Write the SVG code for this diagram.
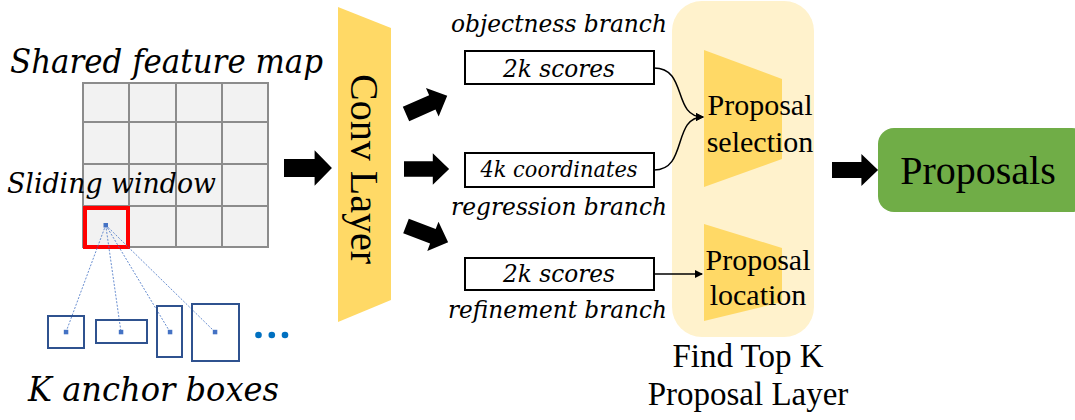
<svg xmlns="http://www.w3.org/2000/svg" width="1075" height="420" viewBox="0 0 1075 420">
<defs>
<style>
.serif{font-family:"Liberation Serif","Times New Roman",serif;fill:#000}
.ital{font-family:"DejaVu Serif",serif;font-style:italic;fill:#000}
.cell{fill:#f2f2f2;stroke:#8c8c8c;stroke-width:2}
.anchor{fill:none;stroke:#2f528f;stroke-width:2}
.adot{fill:#4472c4}
.dash{stroke:#4472c4;stroke-width:1;stroke-dasharray:2 1.5;fill:none;opacity:0.8}
.box{fill:#fff;stroke:#000;stroke-width:2}
.conn{fill:none;stroke:#000;stroke-width:1.5}
</style>
<path id="bigArrow" d="M0,-8.5 H30 V-17 L47,0 L30,17 V8.5 H0 Z" fill="#000"/>
<marker id="tri" markerWidth="8" markerHeight="8" refX="7" refY="4" orient="auto" markerUnits="userSpaceOnUse">
<path d="M0,0 L8,4 L0,8 Z" fill="#000"/>
</marker>
</defs>
<rect width="1075" height="420" fill="#fff"/>

<g id="feature-map">
<text class="ital" x="10" y="73" font-size="33" textLength="313" lengthAdjust="spacingAndGlyphs">Shared feature map</text>
<rect class="cell" x="83" y="83" width="46" height="39"/>
<rect class="cell" x="129" y="83" width="47" height="39"/>
<rect class="cell" x="176" y="83" width="46" height="39"/>
<rect class="cell" x="222" y="83" width="46" height="39"/>
<rect class="cell" x="83" y="122" width="46" height="42"/>
<rect class="cell" x="129" y="122" width="47" height="42"/>
<rect class="cell" x="176" y="122" width="46" height="42"/>
<rect class="cell" x="222" y="122" width="46" height="42"/>
<rect class="cell" x="83" y="164" width="46" height="42"/>
<rect class="cell" x="129" y="164" width="47" height="42"/>
<rect class="cell" x="176" y="164" width="46" height="42"/>
<rect class="cell" x="222" y="164" width="46" height="42"/>
<rect class="cell" x="83" y="206" width="46" height="41"/>
<rect class="cell" x="129" y="206" width="47" height="41"/>
<rect class="cell" x="176" y="206" width="46" height="41"/>
<rect class="cell" x="222" y="206" width="46" height="41"/>
<text class="ital" x="7" y="193" font-size="28" textLength="209" lengthAdjust="spacingAndGlyphs">Sliding window</text>
<rect x="85" y="208" width="43" height="39" fill="none" stroke="#ff0000" stroke-width="4"/>
<rect class="adot" x="103.5" y="223" width="4.5" height="4.5"/>
</g>

<g id="anchors">
<line class="dash" x1="105.7" y1="225" x2="66" y2="332"/>
<line class="dash" x1="105.7" y1="225" x2="121" y2="332"/>
<line class="dash" x1="105.7" y1="225" x2="170" y2="332"/>
<line class="dash" x1="105.7" y1="225" x2="215" y2="332"/>
<rect class="anchor" x="48" y="316" width="36" height="32"/>
<rect class="anchor" x="96" y="320" width="51" height="23"/>
<rect class="anchor" x="157" y="306" width="25" height="51"/>
<rect class="anchor" x="192" y="304" width="47" height="57"/>
<rect class="adot" x="63.8" y="329.8" width="4.5" height="4.5"/>
<rect class="adot" x="118.8" y="329.8" width="4.5" height="4.5"/>
<rect class="adot" x="167.8" y="329.8" width="4.5" height="4.5"/>
<rect class="adot" x="212.8" y="329.8" width="4.5" height="4.5"/>
<circle cx="258.5" cy="335" r="3.3" fill="#0070c0"/>
<circle cx="271.8" cy="335" r="3.3" fill="#0070c0"/>
<circle cx="285" cy="335" r="3.3" fill="#0070c0"/>
<text class="ital" x="28" y="401" font-size="33" textLength="251" lengthAdjust="spacingAndGlyphs">K anchor boxes</text>
</g>

<g id="conv-layer">
<polygon points="338,7 391,28 391,300 338,322" fill="#ffd966"/>
<text class="serif" transform="translate(351,169) rotate(90)" text-anchor="middle" font-size="40">Conv Layer</text>
</g>

<g id="branches">
<text class="ital" x="667" y="32" text-anchor="end" font-size="25" textLength="216" lengthAdjust="spacingAndGlyphs">objectness branch</text>
<rect class="box" x="465" y="51" width="189" height="33"/>
<text class="ital" x="559" y="77" text-anchor="middle" font-size="24.5" textLength="112" lengthAdjust="spacingAndGlyphs">2k scores</text>
<rect class="box" x="465" y="153" width="189" height="34"/>
<text class="ital" x="559" y="177" text-anchor="middle" font-size="22.5" textLength="157" lengthAdjust="spacingAndGlyphs">4k coordinates</text>
<text class="ital" x="667" y="215" text-anchor="end" font-size="25" textLength="216" lengthAdjust="spacingAndGlyphs">regression branch</text>
<rect class="box" x="465" y="258" width="189" height="32"/>
<text class="ital" x="559" y="282" text-anchor="middle" font-size="24.5" textLength="112" lengthAdjust="spacingAndGlyphs">2k scores</text>
<text class="ital" x="667" y="318" text-anchor="end" font-size="25" textLength="219" lengthAdjust="spacingAndGlyphs">refinement branch</text>
</g>

<g id="find-top-k">
<rect x="672" y="1" width="142" height="336" rx="30" ry="30" fill="#fff2cc"/>
<polygon points="704,50 782,79 782,159 704,187" fill="#ffd966"/>
<polygon points="704,224 782,248 782,302 704,321" fill="#ffd966"/>
<text class="serif" x="760" y="115" text-anchor="middle" font-size="30">Proposal</text>
<text class="serif" x="760" y="152" text-anchor="middle" font-size="30">selection</text>
<text class="serif" x="758" y="270" text-anchor="middle" font-size="30">Proposal</text>
<text class="serif" x="758" y="305" text-anchor="middle" font-size="30">location</text>
<text class="serif" x="748" y="367" text-anchor="middle" font-size="33">Find Top K</text>
<text class="serif" x="748" y="405" text-anchor="middle" font-size="33">Proposal Layer</text>
</g>

<g id="proposals">
<rect x="878" y="128" width="210" height="84" rx="16" ry="16" fill="#70ad47"/>
<text class="serif" x="978" y="184" text-anchor="middle" font-size="40">Proposals</text>
</g>

<g id="connectors">
<use href="#bigArrow" transform="translate(284,168) scale(1.02,1.05)"/>
<use href="#bigArrow" transform="translate(404,169) scale(0.96,0.92)"/>
<use href="#bigArrow" transform="translate(406,114) rotate(-24) scale(0.96,0.92)"/>
<use href="#bigArrow" transform="translate(406,226) rotate(21) scale(0.96,0.92)"/>
<use href="#bigArrow" transform="translate(832,170) scale(0.98,0.94)"/>
<path class="conn" d="M654,68 C688,68 672,117 703,117" marker-end="url(#tri)"/>
<path class="conn" d="M654,170 C688,170 672,117 703,117" marker-end="url(#tri)"/>
<line class="conn" x1="654" y1="274" x2="702" y2="274" marker-end="url(#tri)"/>
</g>
</svg>
